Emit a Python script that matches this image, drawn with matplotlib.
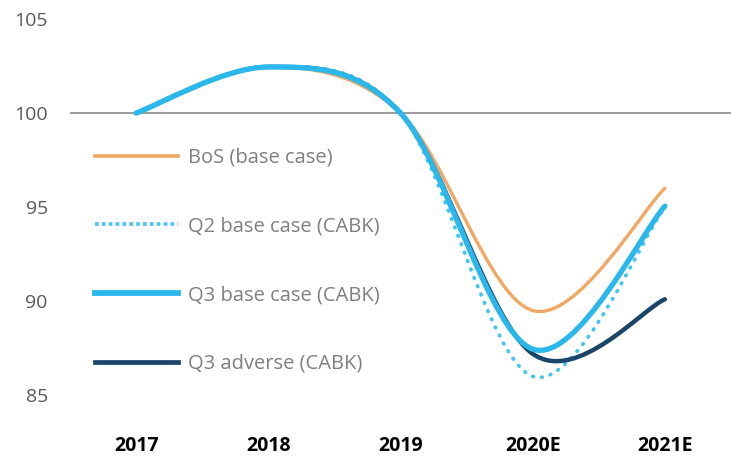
import matplotlib
matplotlib.use("Agg")
import matplotlib.pyplot as plt
import numpy as np
from matplotlib.path import Path
from matplotlib.patches import PathPatch
from matplotlib.lines import Line2D

plt.rcParams['font.family'] = ['Open Sans', 'DejaVu Sans']

# ---- data
years = ["2017", "2018", "2019", "2020E", "2021E"]
bos_base = [100, 102.45, 100, 89.5, 96.0]
q2_base = [100, 102.45, 100, 86.0, 95.0]
q3_base = [100, 102.45, 100, 87.45, 95.05]
q3_adverse = [100, 102.45, 100, 87.2, 90.1]

labels = ["BoS (base case)", "Q2 base case (CABK)",
          "Q3 base case (CABK)", "Q3 adverse (CABK)"]


def smooth_path(xs, ys):
    """Catmull-Rom style smoothed path (like Excel smoothed lines)."""
    pts = np.column_stack([xs, ys]).astype(float)
    ext = np.vstack([pts[0], pts, pts[-1]])
    verts = [pts[0]]
    codes = [Path.MOVETO]
    for i in range(1, len(ext) - 2):
        p0, p1, p2, p3 = ext[i - 1], ext[i], ext[i + 1], ext[i + 2]
        verts += [p1 + (p2 - p0) / 6.0, p2 - (p3 - p1) / 6.0, p2]
        codes += [Path.CURVE4] * 3
    return Path(verts, codes)


fig = plt.figure(figsize=(7.31, 4.59), dpi=100)
ax = fig.add_axes([70 / 731, 1 - 414 / 459, 1 - 70 / 731, 395 / 459])

xs = np.arange(len(years))
ax.axhline(100, color="#808080", lw=1.1, zorder=1)

series = [
    (bos_base, dict(color="#F0A862", lw=2.4, ls="-")),
    (q2_base, dict(color="#45C3F2", lw=2.7, ls=(0, (0.2, 2.2)))),
    (q3_adverse, dict(color="#1A4468", lw=3.2, ls="-")),
    (q3_base, dict(color="#2AB8EC", lw=3.8, ls="-")),
]
for z, (vals, st) in enumerate(series):
    patch = PathPatch(smooth_path(xs, vals), fill=False, edgecolor=st["color"],
                      lw=st["lw"], ls=st["ls"], capstyle="round",
                      joinstyle="round", zorder=3 + z)
    ax.add_patch(patch)

handles = [
    Line2D([], [], color="#F0A862", lw=2.6),
    Line2D([], [], color="#45C3F2", lw=2.6, ls=(0, (1, 0.9))),
    Line2D([], [], color="#2AB8EC", lw=4.2),
    Line2D([], [], color="#1A4468", lw=3.4),
]
leg = ax.legend(handles, labels, loc="upper left", bbox_to_anchor=(0.011, 0.72),
                frameon=False, fontsize=14.5, labelspacing=2.42,
                handlelength=4.08, handletextpad=0.5, labelcolor="#7F7F7F")

ax.set_xlim(-0.5, 4.5)
ax.set_ylim(84, 105)
ax.set_yticks([85, 90, 95, 100, 105])
ax.set_xticks(xs)
ax.set_xticklabels(years, fontweight="bold")
ax.tick_params(axis="y", length=0, pad=16, labelsize=14, labelcolor="#595959")
ax.tick_params(axis="x", length=0, pad=16, labelsize=14, labelcolor="#000000")
for s in ax.spines.values():
    s.set_visible(False)

fig.savefig("out.png", dpi=100)
